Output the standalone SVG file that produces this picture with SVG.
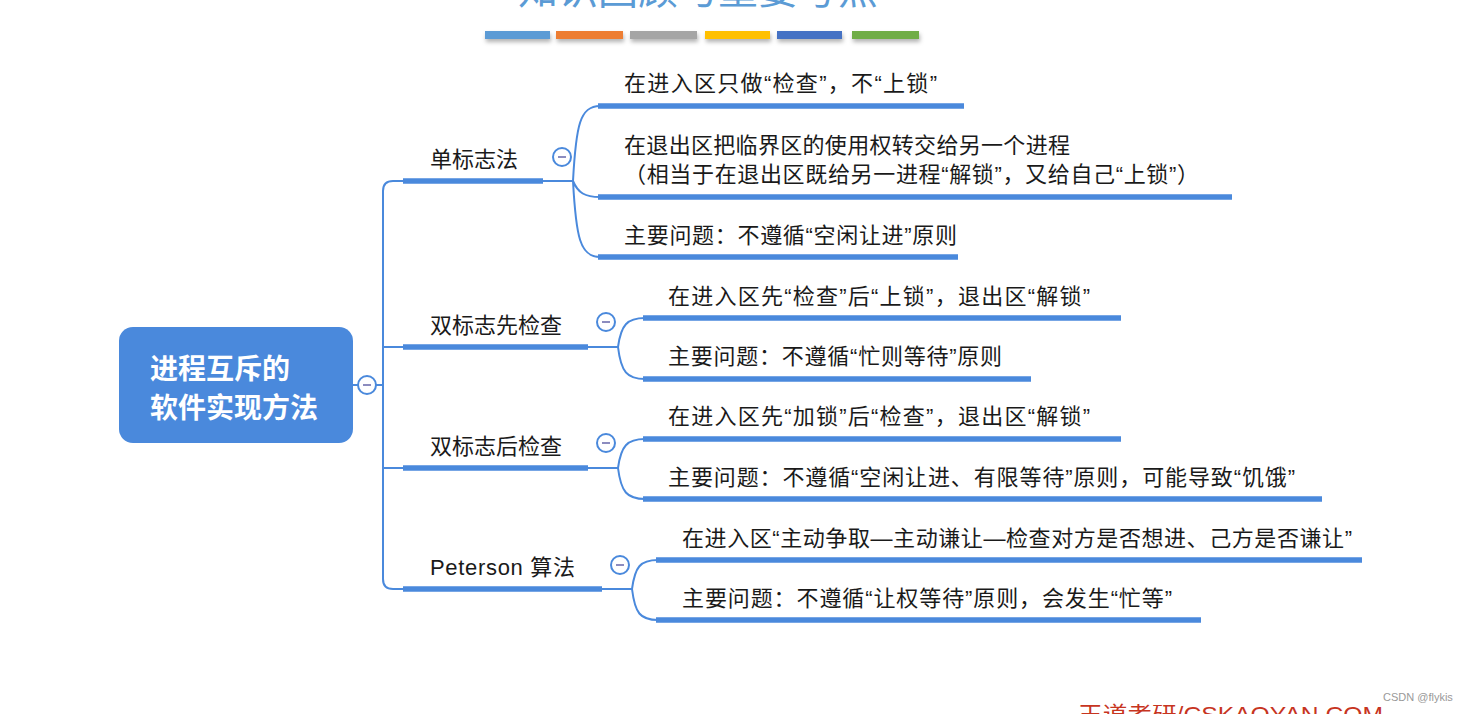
<svg xmlns="http://www.w3.org/2000/svg" width="1469" height="714" viewBox="0 0 1469 714">
<defs>
<filter id="sh" x="-10%" y="-50%" width="120%" height="250%">
<feDropShadow dx="1" dy="3" stdDeviation="2" flood-color="#000" flood-opacity="0.3"/>
</filter>
</defs>
<style>
.t{font-family:"Liberation Sans","Noto Sans CJK SC",sans-serif;font-size:22px;fill:#1a1a1a}
.root{font-family:"Noto Sans CJK SC",sans-serif;font-size:28px;font-weight:bold;fill:#fff}
.ul{stroke:#4a89dc;stroke-width:5.5;fill:none}
.ln{stroke:#4a89dc;stroke-width:2;fill:none}
.cc{fill:#fff;stroke:#4a89dc;stroke-width:2}
.mn{stroke:#8c8cbf;stroke-width:2}
</style>
<rect width="1469" height="714" fill="#fff"/>
<text x="518" y="4" style="font-family:'Noto Sans CJK SC',sans-serif;font-size:40px;fill:#5b9bd5">知识回顾与重要考点</text>
<g filter="url(#sh)">
<rect x="485" y="31" width="65" height="8" fill="#5b9bd5"/>
<rect x="556" y="31" width="67" height="8" fill="#ed7d31"/>
<rect x="630" y="31" width="67" height="8" fill="#a5a5a5"/>
<rect x="705" y="31" width="65" height="8" fill="#ffc000"/>
<rect x="777" y="31" width="65" height="8" fill="#4472c4"/>
<rect x="852" y="31" width="67" height="8" fill="#70ad47"/>
</g>
<g id="connectors">
<path class="ln" d="M353,385 H383"/>
<path class="ln" d="M403,181 H393 Q383,181 383,191 V579 Q383,589 393,589 H403"/>
<path class="ln" d="M383,347 H403 M383,468 H403"/>
<path class="ln" d="M543,181 H573 M573,181 C576,125 580,106 600,106 M573,181 C578,193 585,197 600,197 M573,181 C576,237 580,257 600,257"/>
<path class="ln" d="M588,347 H618 M618,347 C621,325 627,318 645,318 M618,347 C621,372 627,379 645,379"/>
<path class="ln" d="M588,468 H618 M618,468 C621,446 627,439 645,439 M618,468 C621,492 627,499 645,499"/>
<path class="ln" d="M602,589 H632 M632,589 C635,567 640,560 658,560 M632,589 C635,613 640,620 658,620"/>
</g>
<g id="root">
<rect x="119" y="327" width="234" height="116" rx="14" fill="#4a89dc"/>
<text class="root" x="150" y="379">进程互斥的</text>
<text class="root" x="150" y="418">软件实现方法</text>
<circle class="cc" cx="367" cy="385" r="9"/>
<line class="mn" x1="363" y1="385" x2="371" y2="385"/>
</g>
<g id="b1">
<text class="t" x="430" y="167">单标志法</text>
<line class="ul" x1="403" y1="181" x2="543" y2="181"/>
<circle class="cc" cx="562" cy="157" r="9"/>
<line class="mn" x1="558" y1="157" x2="566" y2="157"/>
</g>
<g id="b1c1">
<text class="t" x="624" y="91" textLength="313" lengthAdjust="spacing">在进入区只做“检查”，不“上锁”</text>
<line class="ul" x1="598" y1="106" x2="964" y2="106"/>
</g>
<g id="b1c2">
<text class="t" x="624" y="153" textLength="446" lengthAdjust="spacing">在退出区把临界区的使用权转交给另一个进程</text>
<text class="t" x="624" y="182" textLength="575" lengthAdjust="spacing">（相当于在退出区既给另一进程“解锁”，又给自己“上锁”）</text>
<line class="ul" x1="598" y1="197" x2="1232" y2="197"/>
</g>
<g id="b1c3">
<text class="t" x="624" y="243" textLength="333" lengthAdjust="spacing">主要问题：不遵循“空闲让进”原则</text>
<line class="ul" x1="598" y1="257" x2="958" y2="257"/>
</g>
<g id="b2">
<text class="t" x="430" y="333">双标志先检查</text>
<line class="ul" x1="403" y1="347" x2="588" y2="347"/>
<circle class="cc" cx="606" cy="322" r="9"/>
<line class="mn" x1="602" y1="322" x2="610" y2="322"/>
</g>
<g id="b2c1">
<text class="t" x="668" y="304" textLength="422" lengthAdjust="spacing">在进入区先“检查”后“上锁”，退出区“解锁”</text>
<line class="ul" x1="643" y1="318" x2="1121" y2="318"/>
</g>
<g id="b2c2">
<text class="t" x="668" y="364" textLength="334" lengthAdjust="spacing">主要问题：不遵循“忙则等待”原则</text>
<line class="ul" x1="643" y1="379" x2="1031" y2="379"/>
</g>
<g id="b3">
<text class="t" x="430" y="454">双标志后检查</text>
<line class="ul" x1="403" y1="468" x2="588" y2="468"/>
<circle class="cc" cx="606" cy="443" r="9"/>
<line class="mn" x1="602" y1="443" x2="610" y2="443"/>
</g>
<g id="b3c1">
<text class="t" x="668" y="424" textLength="422" lengthAdjust="spacing">在进入区先“加锁”后“检查”，退出区“解锁”</text>
<line class="ul" x1="643" y1="439" x2="1121" y2="439"/>
</g>
<g id="b3c2">
<text class="t" x="668" y="485" textLength="627" lengthAdjust="spacing">主要问题：不遵循“空闲让进、有限等待”原则，可能导致“饥饿”</text>
<line class="ul" x1="643" y1="499" x2="1322" y2="499"/>
</g>
<g id="b4">
<text class="t" x="430" y="575" textLength="145" lengthAdjust="spacing">Peterson 算法</text>
<line class="ul" x1="403" y1="589" x2="602" y2="589"/>
<circle class="cc" cx="620" cy="565" r="9"/>
<line class="mn" x1="616" y1="565" x2="624" y2="565"/>
</g>
<g id="b4c1">
<text class="t" x="682" y="546" textLength="670" lengthAdjust="spacing">在进入区“主动争取—主动谦让—检查对方是否想进、己方是否谦让”</text>
<line class="ul" x1="656" y1="560" x2="1362" y2="560"/>
</g>
<g id="b4c2">
<text class="t" x="682" y="606" textLength="490" lengthAdjust="spacing">主要问题：不遵循“让权等待”原则，会发生“忙等”</text>
<line class="ul" x1="656" y1="620" x2="1201" y2="620"/>
</g>
<text x="1078" y="722" textLength="305" lengthAdjust="spacingAndGlyphs" style="font-family:'Liberation Sans','Noto Sans CJK SC',sans-serif;font-size:22px;fill:#c7351f">王道考研/CSKAOYAN.COM</text>
<text x="1383" y="701" style="font-family:'Liberation Sans',sans-serif;font-size:11px;fill:#999">CSDN @flykis</text>
</svg>
